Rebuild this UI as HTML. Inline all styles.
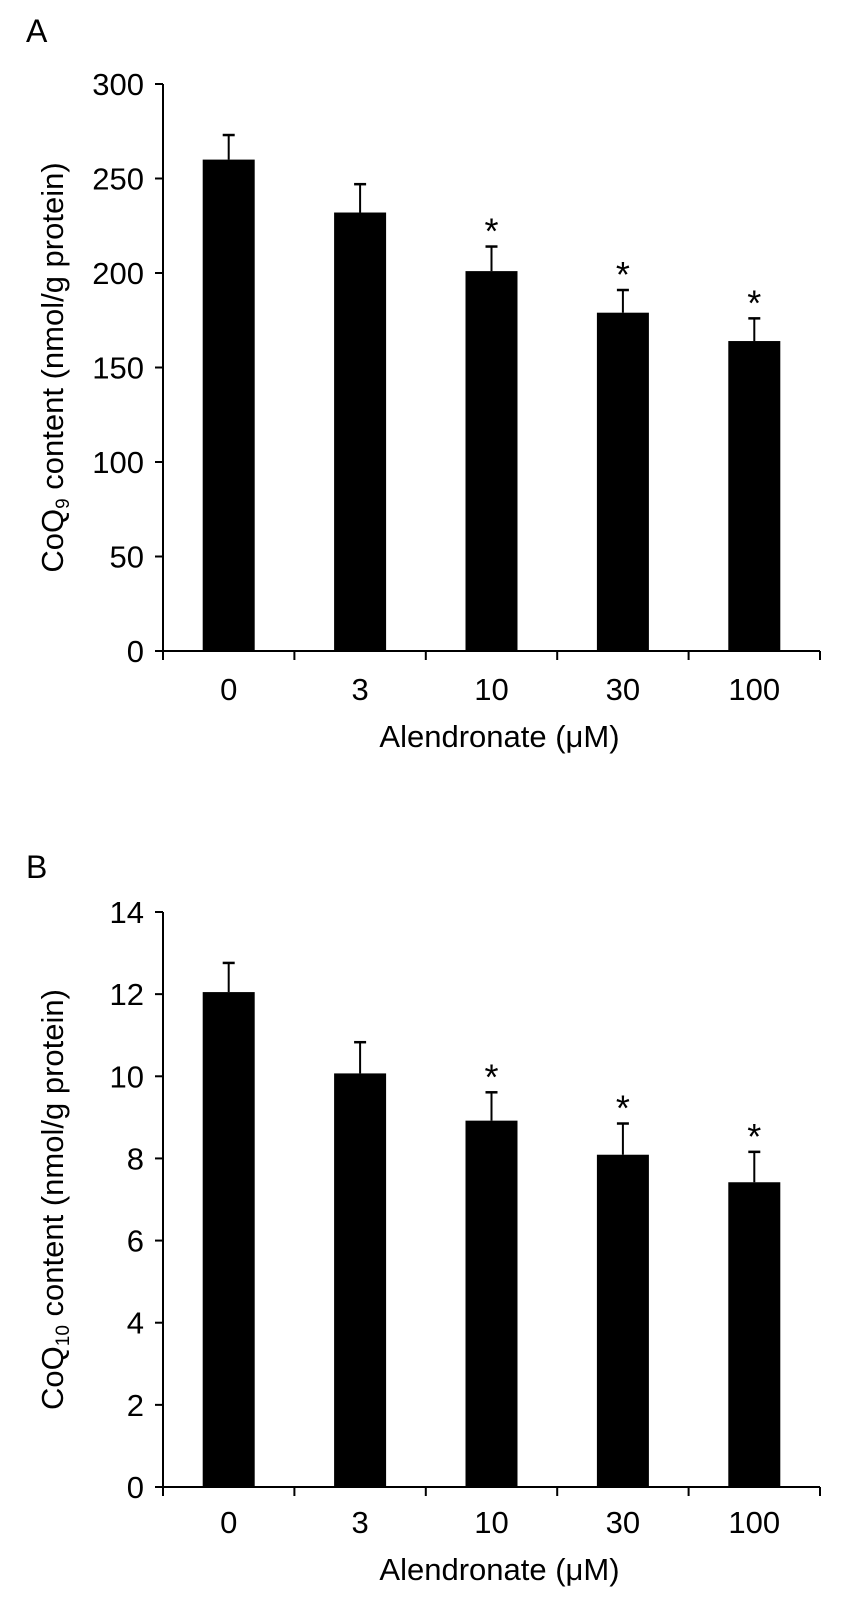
<!DOCTYPE html>
<html><head><meta charset="utf-8"><style>
html,body{margin:0;padding:0;background:#fff;}
svg{display:block;font-family:"Liberation Sans",Arial,sans-serif;}
</style></head><body>
<svg id="fig" width="862" height="1605" viewBox="0 0 862 1605">
<text x="26" y="42" font-size="32">A</text>
<text x="26" y="878" font-size="32">B</text>
<g id="chartA"></g>
<g id="chartB"></g>
</svg>
<script>
const categories = ["0","3","10","30","100"];
const valuesA = [260, 232, 201, 179, 164];
const errorsA = [13, 15, 13, 12, 12];
const sigA = [false, false, true, true, true];
const ticksA = [0,50,100,150,200,250,300];
const valuesB = [12.05, 10.07, 8.92, 8.09, 7.42];
const errorsB = [0.71, 0.76, 0.69, 0.76, 0.74];
const sigB = [false, false, true, true, true];
const ticksB = [0,2,4,6,8,10,12,14];

const NS = "http://www.w3.org/2000/svg";
function mk(tag, attrs, parent){
  const e = document.createElementNS(NS, tag);
  for (const k in attrs) e.setAttribute(k, attrs[k]);
  parent.appendChild(e);
  return e;
}
function drawChart(g, cfg){
  const x0 = 163, x1 = 820;
  const y0 = cfg.y0, yTop = cfg.yTop, max = cfg.max;
  const yScale = v => y0 - (v / max) * (y0 - yTop);
  const band = (x1 - x0) / categories.length;
  const xCenter = i => x0 + band * (i + 0.5);
  const bw = 52;
  cfg.values.forEach((v, i) => {
    const cx = xCenter(i);
    const yv = yScale(v), ye = yScale(v + cfg.errors[i]);
    const ln = mk("line", {x1:cx, x2:cx, y1:yv, y2:ye, stroke:"#000", "stroke-width":2}, g);
    
    
    const cap = mk("line", {x1:cx-6, x2:cx+6, y1:ye, y2:ye, stroke:"#000", "stroke-width":2.5}, g);
    
    
    const r = mk("rect", {x:cx-bw/2, y:yv, width:bw, height:y0-yv, fill:"#000"}, g);
    
    
    if (cfg.sig[i]) {
      const s = mk("text", {x:cx, y:ye-3, "font-size":36, "text-anchor":"middle"}, g);
      s.textContent = "*";
      
      
    }
    const t = mk("text", {x:cx, y:cfg.xLabelY, "font-size":31, "text-anchor":"middle"}, g);
    t.textContent = categories[i];
    
    
  });
  const ya = mk("line", {x1:x0, x2:x0, y1:yTop, y2:y0+9, stroke:"#000", "stroke-width":2}, g);
  
  
  const xa = mk("line", {x1:x0-8, x2:x1, y1:y0, y2:y0, stroke:"#000", "stroke-width":2}, g);
  
  
  for (let i = 1; i <= categories.length; i++) {
    const tx = x0 + band * i;
    const tk = mk("line", {x1:tx, x2:tx, y1:y0, y2:y0+9, stroke:"#000", "stroke-width":2}, g);
    
    
  }
  cfg.ticks.forEach(v => {
    const ty = yScale(v);
    const tk = mk("line", {x1:x0-8, x2:x0, y1:ty, y2:ty, stroke:"#000", "stroke-width":2}, g);
    
    
    const t = mk("text", {x:144, y:ty+11, "font-size":31, "text-anchor":"end"}, g);
    t.textContent = v;
    
    
  });
  const xt = mk("text", {x:(x0+x1)/2+8, y:cfg.xLabelY+47, "font-size":31, "text-anchor":"middle"}, g);
  xt.textContent = "Alendronate (\u03bcM)";
  
  
  const cy = (y0 + yTop) / 2;
  const yt = mk("text", {x:0, y:0, "font-size":31, "text-anchor":"middle", transform:"translate(63," + cy + ") rotate(-90)"}, g);
  
  
  const a = mk("tspan", {}, yt); a.textContent = "CoQ";
  const b = mk("tspan", {"font-size":19, dy:6}, yt); b.textContent = cfg.sub;
  const c = mk("tspan", {dy:-6}, yt); c.textContent = " content (nmol/g protein)";
}
drawChart(document.getElementById("chartA"), {y0:651, yTop:84, max:300, values:valuesA, errors:errorsA, sig:sigA, ticks:ticksA, xLabelY:700, sub:"9"});
drawChart(document.getElementById("chartB"), {y0:1487, yTop:912, max:14, values:valuesB, errors:errorsB, sig:sigB, ticks:ticksB, xLabelY:1533, sub:"10"});
</script>
</body></html>
